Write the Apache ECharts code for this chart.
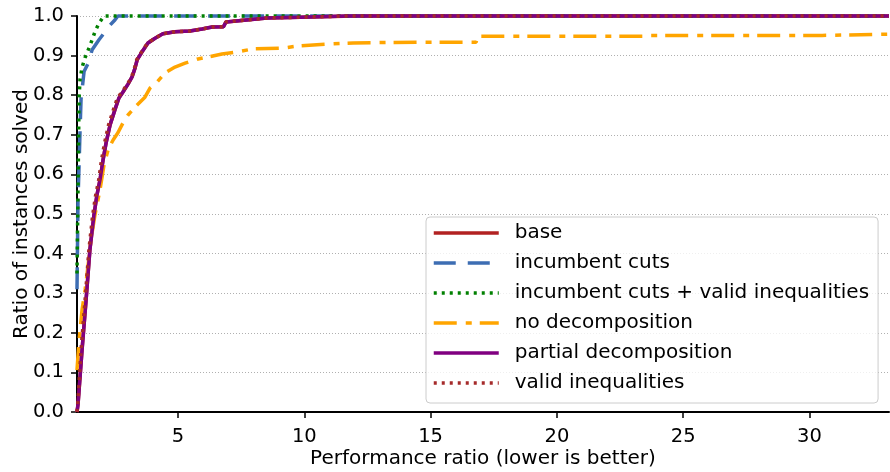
<!DOCTYPE html>
<html>
<head>
<meta charset="utf-8">
<script src="https://cdn.jsdelivr.net/npm/echarts@6/dist/echarts.min.js"></script>
<style>
html,body{margin:0;padding:0;background:#fff;}
#chart{width:890px;height:472px;}
</style>
</head>
<body>
<div id="chart"></div>
<script>
// ---- data (performance ratio, ratio of instances solved) ----
const seriesNames = ['base', 'incumbent cuts', 'incumbent cuts + valid inequalities', 'no decomposition', 'partial decomposition', 'valid inequalities'];
const xTicks = [5, 10, 15, 20, 25, 30];
const yTicks = [0, 0.1, 0.2, 0.3, 0.4, 0.5, 0.6, 0.7, 0.8, 0.9, 1.0];

const base = [[1.0,0.0],[1.04,0.02],[1.2,0.157],[1.36,0.283],[1.51,0.409],[1.67,0.497],[1.79,0.548],[1.91,0.586],[2.03,0.636],[2.15,0.679],[2.31,0.725],[2.5,0.763],[2.66,0.793],[2.82,0.808],[3.02,0.828],[3.18,0.846],[3.3,0.869],[3.38,0.889],[3.57,0.909],[3.81,0.932],[4.09,0.944],[4.4,0.955],[4.88,0.96],[5.47,0.962],[5.95,0.967],[6.35,0.972],[6.8,0.973],[6.9,0.985],[8.52,0.995],[9.83,0.997],[12.0,1.0],[33.15,1.0]];
const incumbentCuts = [[1.0,0.31],[1.04,0.535],[1.08,0.62],[1.12,0.71],[1.16,0.79],[1.28,0.86],[1.44,0.88],[1.6,0.915],[1.87,0.94],[2.11,0.96],[2.31,0.977],[2.5,0.99],[2.62,1.0],[33.15,1.0]];
const incumbentValid = [[1.0,0.35],[1.04,0.56],[1.08,0.79],[1.12,0.84],[1.2,0.87],[1.32,0.895],[1.48,0.92],[1.6,0.94],[1.71,0.96],[1.87,0.982],[2.07,1.0],[33.15,1.0]];
const noDecomposition = [[1.0,0.106],[1.08,0.18],[1.2,0.258],[1.32,0.308],[1.44,0.371],[1.55,0.434],[1.71,0.497],[1.91,0.561],[2.07,0.624],[2.23,0.662],[2.43,0.687],[2.62,0.705],[2.82,0.73],[3.02,0.75],[3.3,0.77],[3.69,0.795],[3.89,0.818],[4.17,0.833],[4.48,0.856],[4.88,0.871],[5.28,0.881],[5.75,0.891],[6.15,0.896],[6.74,0.904],[7.33,0.909],[7.97,0.917],[9.16,0.919],[9.71,0.924],[10.9,0.929],[11.93,0.932],[14.63,0.934],[16.8,0.934],[16.88,0.949],[23.6,0.949],[23.7,0.951],[30.5,0.951],[30.55,0.954],[33.15,0.954]];
const partialDecomposition = [[1.0,0.0],[1.04,0.018],[1.2,0.157],[1.36,0.283],[1.51,0.409],[1.67,0.497],[1.79,0.548],[1.91,0.586],[2.03,0.636],[2.15,0.679],[2.31,0.725],[2.5,0.763],[2.66,0.793],[2.82,0.808],[3.02,0.828],[3.18,0.846],[3.3,0.869],[3.38,0.889],[3.57,0.909],[3.81,0.932],[4.09,0.944],[4.4,0.955],[4.88,0.96],[5.47,0.962],[5.95,0.967],[6.35,0.972],[6.8,0.973],[6.9,0.985],[8.52,0.995],[9.83,0.997],[11.69,1.0],[33.15,1.0]];
const validInequalities = [[1.0,0.0],[1.04,0.03],[1.16,0.157],[1.32,0.283],[1.47,0.409],[1.62,0.497],[1.74,0.548],[1.86,0.586],[1.97,0.636],[2.09,0.679],[2.25,0.725],[2.44,0.763],[2.6,0.793],[2.78,0.808],[3.0,0.828],[3.16,0.846],[3.28,0.869],[3.36,0.889],[3.55,0.909],[3.8,0.932],[4.09,0.944],[4.4,0.955],[4.88,0.96],[5.47,0.962],[5.95,0.967],[6.35,0.972],[6.8,0.973],[6.9,0.985],[8.52,0.995],[9.83,0.997],[11.69,1.0],[33.15,1.0]];

const seriesData = [base, incumbentCuts, incumbentValid, noDecomposition, partialDecomposition, validInequalities];
const colors = ['#b22222', '#3d6db3', '#008000', '#ffa500', '#800080', '#a52a2a'];
const dashes = ['solid', [22, 12], [3, 5], [23, 9, 6, 8], 'solid', [3, 5]];

const FONT = 'DejaVu Sans';
const chart = echarts.init(document.getElementById('chart'), null, {renderer: 'canvas'});

const series = seriesNames.map((name, i) => ({
  name: name,
  type: 'line',
  data: seriesData[i],
  showSymbol: false,
  symbol: 'none',
  clip: false,
  color: colors[i],
  lineStyle: {color: colors[i], width: 3.5, type: dashes[i], cap: 'butt'},
  itemStyle: {color: colors[i]},
  emphasis: {disabled: true},
  z: 2 + i
}));

chart.setOption({
  animation: false,
  backgroundColor: '#ffffff',
  grid: {left: 77, right: 1, top: 16, bottom: 60, containLabel: false, outerBoundsMode: 'none'},
  xAxis: {
    type: 'value',
    min: 1,
    max: 33.15,
    name: 'Performance ratio (lower is better)',
    nameLocation: 'middle',
    nameGap: 37,
    nameMoveOverlap: false,
    nameTextStyle: {fontFamily: FONT, fontSize: 20, color: '#000'},
    axisLine: {show: true, onZero: false, lineStyle: {color: '#000', width: 2}},
    axisTick: {show: true, length: 6, customValues: xTicks, lineStyle: {color: '#000', width: 1.5}},
    axisLabel: {customValues: xTicks, fontFamily: FONT, fontSize: 19.5, color: '#000', margin: 15},
    splitLine: {show: false}
  },
  yAxis: {
    type: 'value',
    min: 0,
    max: 1,
    interval: 0.1,
    name: 'Ratio of instances solved',
    nameLocation: 'middle',
    nameGap: 45,
    nameMoveOverlap: false,
    nameTextStyle: {fontFamily: FONT, fontSize: 20, color: '#000'},
    axisLine: {show: true, lineStyle: {color: '#000', width: 2}},
    axisTick: {show: true, length: 6, lineStyle: {color: '#000', width: 1.5}},
    axisLabel: {fontFamily: FONT, fontSize: 19.5, color: '#000', margin: 13,
      formatter: v => v.toFixed(1)},
    splitLine: {show: true, lineStyle: {color: '#b0b0b0', width: 1, type: [1, 2]}}
  },
  legend: {
    data: seriesNames,
    orient: 'vertical',
    left: 426,
    top: 217,
    itemWidth: 65,
    itemHeight: 14,
    itemGap: 10,
    padding: [6, 9, 10, 6],
    backgroundColor: 'rgba(255,255,255,0.8)',
    borderColor: '#cccccc',
    borderWidth: 1,
    borderRadius: 4,
    selectedMode: false,
    itemStyle: {opacity: 0},
    lineStyle: {width: 3.5, cap: 'butt'},
    textStyle: {fontFamily: FONT, fontSize: 20, color: '#000', lineHeight: 20, padding: [0, 0, 0, 11]}
  },
  series: series
});
</script>
</body>
</html>
